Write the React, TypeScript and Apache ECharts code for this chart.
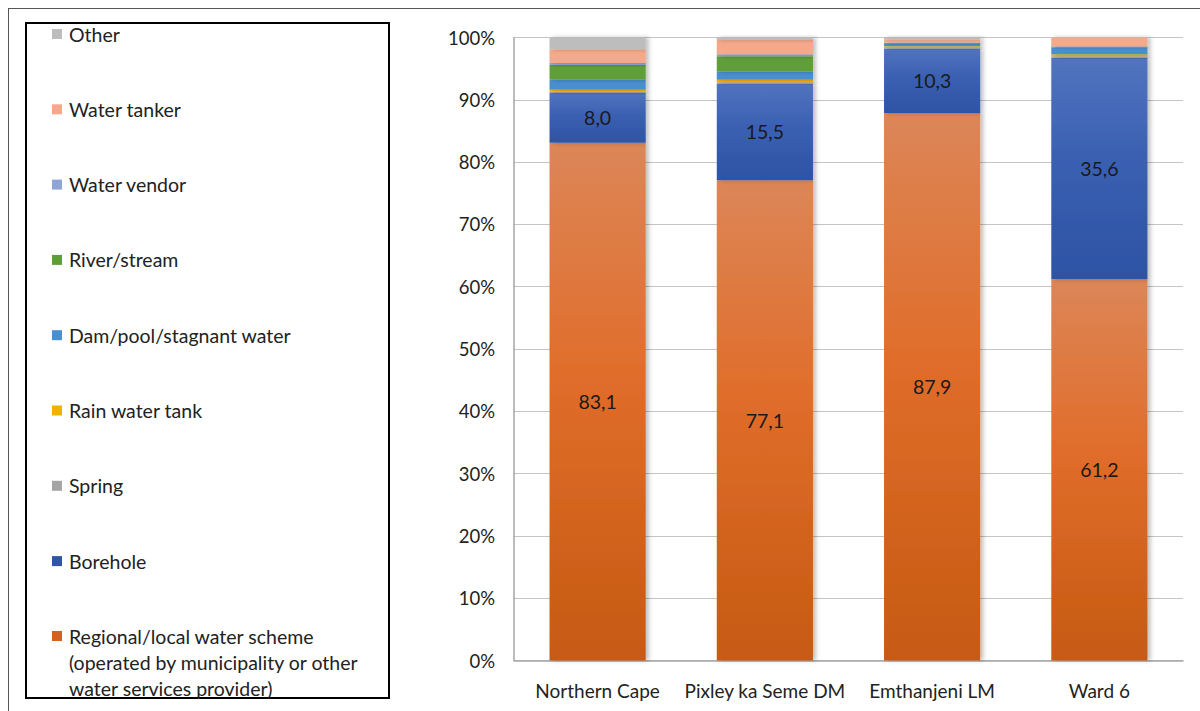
import React, { useEffect, useRef } from "react";
import * as echarts from "echarts";

const categories = ["Northern Cape", "Pixley ka Seme DM", "Emthanjeni LM", "Ward 6"];

const regional = [83.1, 77.1, 87.9, 61.2];
const borehole = [8.0, 15.5, 10.3, 35.6];
const spring = [0.2, 0.2, 0.1, 0.2];
const rainTank = [0.3, 0.4, 0.3, 0.3];
const dam = [1.6, 1.3, 0.4, 1.1];
const river = [2.4, 2.5, 0.1, 0.1];
const vendor = [0.3, 0.3, 0.1, 0.1];
const tanker = [2.2, 2.3, 0.5, 1.4];
const other = [1.9, 0.4, 0.3, 0.0];

const yTicks = [0, 10, 20, 30, 40, 50, 60, 70, 80, 90, 100];

const FONT = "Lato, 'Open Sans', sans-serif";

const REGIONAL =
  "Regional/local water scheme (operated by municipality or other water services provider)";

const seriesDefs = [
  { name: REGIONAL, data: regional, color: "#d4621c", grad: ["#dc8658", "#e06d2a", "#c65a12"], label: true },
  { name: "Borehole", data: borehole, color: "#2f55a4", grad: ["#5274be", "#3a60b2", "#2d53a5"], label: true },
  { name: "Spring", data: spring, color: "#a5a5a5" },
  { name: "Rain water tank", data: rainTank, color: "#f2b000" },
  { name: "Dam/pool/stagnant water", data: dam, color: "#4a8fd0" },
  { name: "River/stream", data: river, color: "#5e9e3a" },
  { name: "Water vendor", data: vendor, color: "#8fa5d8" },
  { name: "Water tanker", data: tanker, color: "#f4a98a" },
  { name: "Other", data: other, color: "#bdbdbd" },
];

const legendLines: Record<string, string[]> = {
  [REGIONAL]: [
    "Regional/local water scheme",
    "(operated by municipality or other",
    "water services provider)",
  ],
};

export default function App() {
  const ref = useRef<HTMLDivElement>(null);

  useEffect(() => {
    if (!ref.current) return;
    const chart = echarts.init(ref.current, null, { renderer: "svg" });

    const rich: Record<string, any> = {
      t: { fontSize: 19.5, fontFamily: FONT, color: "#222", lineHeight: 26 },
      g: { width: 7, height: 10 },
      p: { width: 17, height: 10 },
    };
    seriesDefs.forEach((s, i) => {
      rich["s" + i] = { width: 10, height: 10, backgroundColor: s.color, verticalAlign: "middle" };
    });

    const series = seriesDefs.map((s) => ({
      name: s.name,
      type: "bar",
      stack: "total",
      barWidth: "57.5%",
      data: s.data,
      itemStyle: {
        color: s.grad
          ? new echarts.graphic.LinearGradient(0, 0, 0, 1, [
              { offset: 0, color: s.grad[0] },
              { offset: 0.45, color: s.grad[1] },
              { offset: 1, color: s.grad[2] },
            ])
          : s.color,
        shadowColor: "rgba(0,0,0,0.25)",
        shadowBlur: 4,
        shadowOffsetX: 3,
      },
      label: s.label
        ? {
            show: true,
            position: "inside",
            fontSize: 19.5,
            fontFamily: FONT,
            color: "#1a1a1a",
            formatter: (p: any) => Number(p.value).toFixed(1).replace(".", ","),
          }
        : { show: false },
      emphasis: { disabled: true },
    }));

    const legendOrder = [...seriesDefs].reverse().map((s) => s.name);
    const formatter = (name: string) => {
      const idx = seriesDefs.findIndex((s) => s.name === name);
      const lines = legendLines[name] || [name];
      return lines
        .map((ln, k) => (k === 0 ? `{s${idx}|}{g|}{t|${ln}}` : `{p|}{t|${ln}}`))
        .join("\n");
    };
    const legendBase = {
      orient: "vertical",
      left: 47,
      padding: 0,
      itemWidth: 0,
      itemHeight: 0,
      selectedMode: false,
      formatter,
      textStyle: { rich, fontSize: 19.5, fontFamily: FONT, color: "#222", lineHeight: 26 },
    };

    chart.setOption({
      animation: false,
      backgroundColor: "#ffffff",
      grid: { left: 514, right: 17, top: 37.5, bottom: 50.5, containLabel: false },
      legend: [
        {
          ...legendBase,
          top: 21,
          height: 620,
          itemGap: 49.3,
          data: legendOrder.filter((n) => n !== REGIONAL),
        },
        {
          ...legendBase,
          top: 623,
          height: 85,
          data: [REGIONAL],
        },
      ],
      xAxis: {
        type: "category",
        data: categories,
        axisLine: { show: true, lineStyle: { color: "#a6a6a6", width: 1.5 } },
        axisTick: { show: false },
        axisLabel: { fontSize: 19, fontFamily: FONT, color: "#222", margin: 20, interval: 0 },
      },
      yAxis: {
        type: "value",
        min: yTicks[0],
        max: yTicks[yTicks.length - 1],
        interval: 10,
        axisLine: { show: true, lineStyle: { color: "#a6a6a6", width: 1.5 } },
        axisTick: { show: false },
        splitLine: { show: true, lineStyle: { color: "#c4c4c4", width: 1 } },
        axisLabel: {
          fontSize: 18.5,
          fontFamily: FONT,
          color: "#222",
          margin: 19,
          formatter: "{value}%",
        },
      },
      graphic: [
        {
          type: "line",
          shape: { x1: 8, y1: 8.5, x2: 1200, y2: 8.5 },
          style: { stroke: "#555", lineWidth: 1 },
        },
        {
          type: "line",
          shape: { x1: 8.5, y1: 8, x2: 8.5, y2: 711 },
          style: { stroke: "#555", lineWidth: 1 },
        },
        {
          type: "rect",
          shape: { x: 26, y: 23, width: 363, height: 675 },
          style: { fill: "none", stroke: "#000", lineWidth: 2 },
        },
      ],
      series,
    });

    return () => chart.dispose();
  }, []);

  return (
    <div
      ref={ref}
      style={{ position: "absolute", left: 0, top: 0, width: 1200, height: 711 }}
    />
  );
}
